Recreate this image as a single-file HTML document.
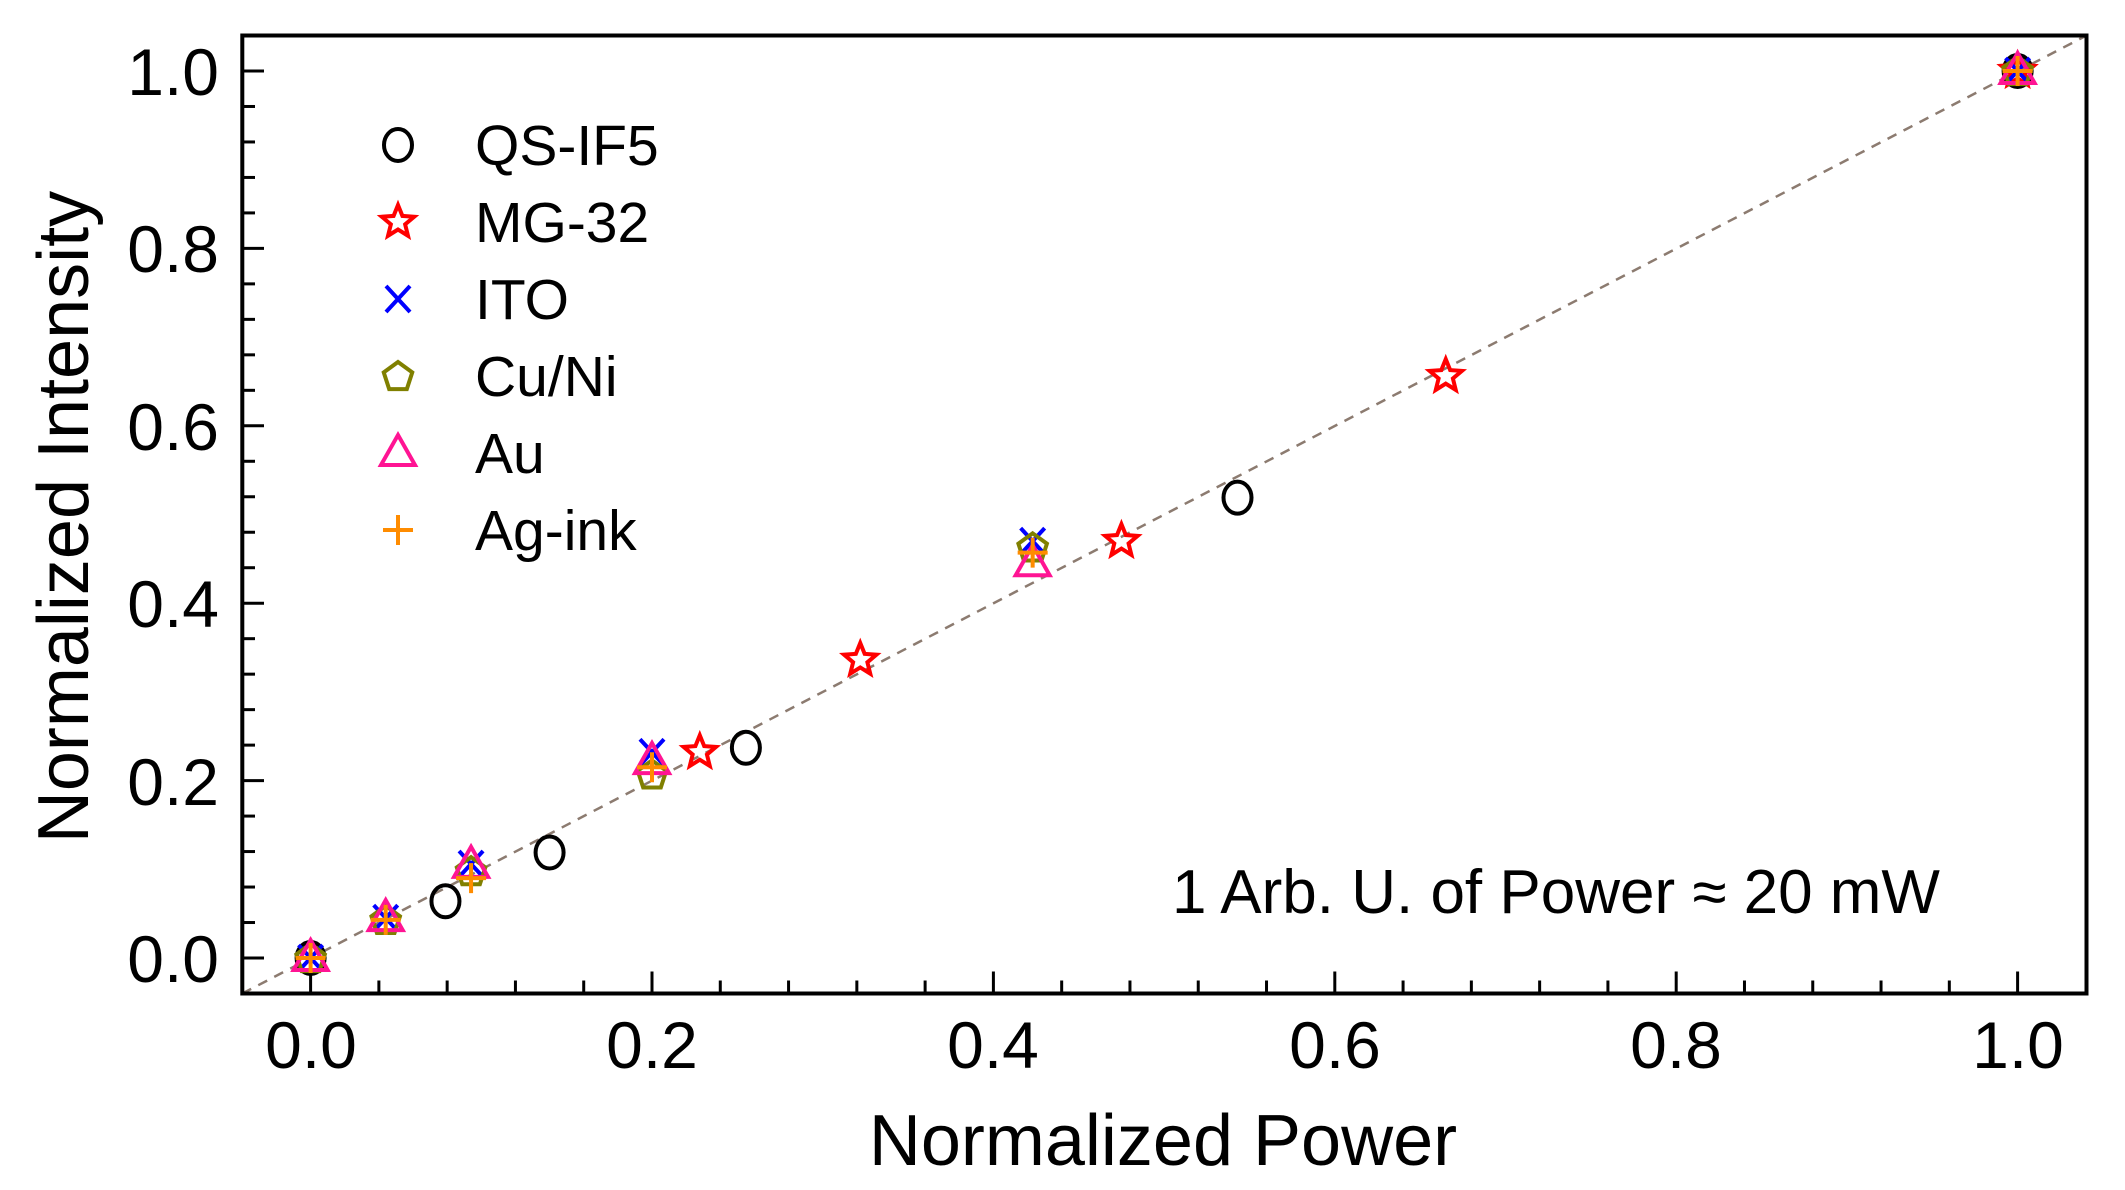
<!DOCTYPE html>
<html><head><meta charset="utf-8"><style>
html,body{margin:0;padding:0;background:#fff;}
svg{display:block;font-family:"Liberation Sans",Arial,sans-serif;}
</style></head><body>
<svg id="s" width="2125" height="1190" viewBox="0 0 2125 1190" xmlns="http://www.w3.org/2000/svg">
<rect width="2125" height="1190" fill="#fff"/>
<line x1="242.3" y1="993.5" x2="2086.5" y2="35.5" stroke="#8c7b70" stroke-width="2.5" stroke-dasharray="10,8"/>
<g id="ticks" stroke="#000" stroke-width="3"></g>
<rect x="242.3" y="35.5" width="1844.2" height="958" fill="none" stroke="#000" stroke-width="4"/>
<g font-size="66" fill="#000" text-anchor="end">
<text x="219" y="982">0.0</text><text x="219" y="805">0.2</text><text x="219" y="627">0.4</text>
<text x="219" y="450">0.6</text><text x="219" y="272">0.8</text><text x="219" y="95">1.0</text>
</g>
<g font-size="66" fill="#000" text-anchor="middle">
<text x="311" y="1068">0.0</text><text x="652" y="1068">0.2</text><text x="993" y="1068">0.4</text>
<text x="1335" y="1068">0.6</text><text x="1676" y="1068">0.8</text><text x="2018" y="1068">1.0</text>
</g>
<text x="1163" y="1165" font-size="72" text-anchor="middle">Normalized Power</text>
<text transform="translate(88,517) rotate(-90)" font-size="72" text-anchor="middle">Normalized Intensity</text>
<text x="1172" y="913" font-size="62">1 Arb. U. of Power ≈ 20 mW</text>
<g font-size="57" fill="#000">
<text x="475" y="165">QS-IF5</text><text x="475" y="242">MG-32</text><text x="475" y="319">ITO</text>
<text x="475" y="396">Cu/Ni</text><text x="475" y="473">Au</text><text x="475" y="550">Ag-ink</text>
</g>
<g id="m" fill="none" stroke-width="4"></g>
</svg>
<script>
const X=v=>310.6+1707*v, Y=v=>958-887*v;
const NS="http://www.w3.org/2000/svg";
const t=document.getElementById('ticks');
function ln(g,x1,y1,x2,y2){const l=document.createElementNS(NS,'line');l.setAttribute('x1',x1);l.setAttribute('y1',y1);l.setAttribute('x2',x2);l.setAttribute('y2',y2);g.appendChild(l);}
for(let i=0;i<=25;i++){const v=i*0.04;const maj=i%5==0;const L=maj?22:13;
 ln(t,X(v),993.5,X(v),993.5-L);ln(t,242,Y(v),242+L,Y(v));}
ln(t,242,Y(-0.04),252,Y(-0.04));
const m=document.getElementById('m');
function mk(type,col,x,y){let el;
 if(type=='o'){el=document.createElementNS(NS,'ellipse');el.setAttribute('cx',x);el.setAttribute('cy',y);el.setAttribute('rx',14);el.setAttribute('ry',16);}
 else if(type=='x'){el=document.createElementNS(NS,'path');el.setAttribute('d',`M${x-12},${y-13}L${x+12},${y+13}M${x+12},${y-13}L${x-12},${y+13}`);}
 else if(type=='+'){el=document.createElementNS(NS,'path');el.setAttribute('d',`M${x-15},${y}L${x+15},${y}M${x},${y-15}L${x},${y+15}`);}
 else{let pts=[];
  if(type=='*'){for(let k=0;k<10;k++){const a=-Math.PI/2+k*Math.PI/5;const R=k%2?7.5:17;pts.push([x+R*Math.cos(a),y+R*Math.sin(a)]);}}
  else if(type=='p'){for(let k=0;k<5;k++){const a=-Math.PI/2+k*2*Math.PI/5;pts.push([x+15*Math.cos(a),y+1+15*Math.sin(a)]);}}
  else if(type=='^'){pts=[[x,y-18],[x+17,y+12],[x-17,y+12]];}
  el=document.createElementNS(NS,'polygon');el.setAttribute('points',pts.map(p=>p.join(',')).join(' '));}
 el.setAttribute('stroke',col);m.appendChild(el);}
const S=[
 ['o','#000',[[0,0],[0.079,0.064],[0.14,0.119],[0.255,0.237],[0.543,0.519],[1,1]]],
 ['*','#ff0000',[[0.228,0.232],[0.322,0.336],[0.475,0.47],[0.665,0.656],[1,1]]],
 ['x','#0000ff',[[0,0],[0.044,0.045],[0.094,0.106],[0.2,0.232],[0.423,0.47],[1,1]]],
 ['p','#808000',[[0,0],[0.044,0.043],[0.094,0.098],[0.2,0.207],[0.423,0.463],[1,1]]],
 ['^','#ff1493',[[0,0],[0.044,0.045],[0.094,0.105],[0.2,0.222],[0.423,0.445],[1,1]]],
 ['+','#ff8c00',[[0,0],[0.044,0.043],[0.094,0.09],[0.2,0.215],[0.423,0.457],[1,1]]]];
S.forEach(([ty,c,d],i)=>{d.forEach(p=>mk(ty,c,X(p[0]),Y(p[1])));mk(ty,c,398,145+i*77);});
</script>
</body></html>
